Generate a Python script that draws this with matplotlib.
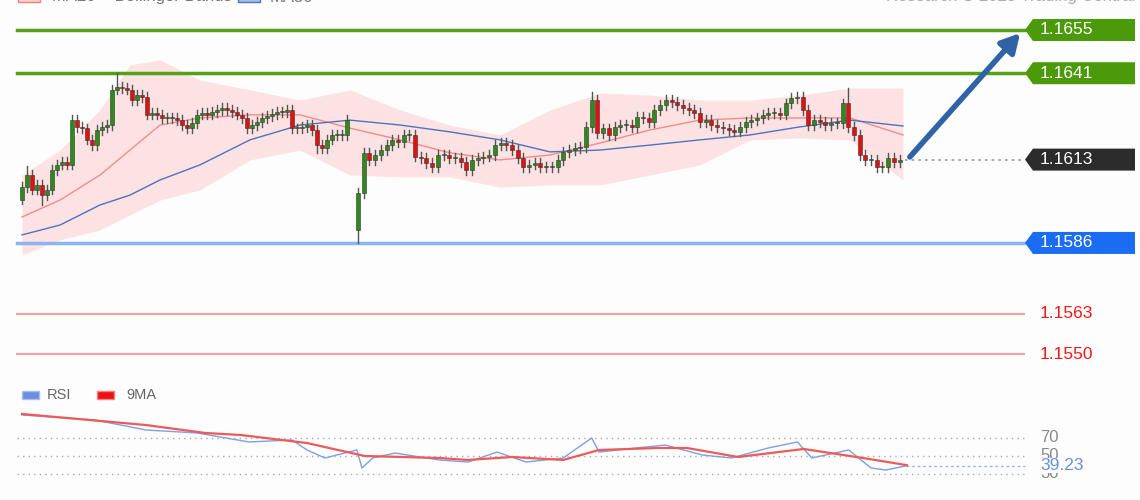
import numpy as np
import matplotlib
matplotlib.use("Agg")
import matplotlib.pyplot as plt
from matplotlib.transforms import blended_transform_factory as btf
from matplotlib.patches import Polygon, Rectangle

plt.rcParams['font.family'] = ['Liberation Sans', 'DejaVu Sans']

# ---------------- data ----------------
closes = [1.16041,1.16080,1.16032,1.16048,1.16015,1.16032,1.16096,1.16113,1.16122,1.16113,
 1.16258,1.16236,1.16232,1.16194,1.16177,1.16226,1.16236,1.16242,1.16356,1.16365,
 1.16362,1.16356,1.16323,1.16339,1.16333,1.16275,1.16281,1.16275,1.16265,1.16265,
 1.16265,1.16258,1.16242,1.16232,1.16249,1.16275,1.16281,1.16275,1.16284,1.16291,
 1.16297,1.16291,1.16284,1.16275,1.16265,1.16232,1.16242,1.16252,1.16265,1.16271,
 1.16278,1.16284,1.16284,1.16291,1.16232,1.16232,1.16236,1.16242,1.16226,1.16177,
 1.16168,1.16194,1.16210,1.16210,1.16210,1.16258,
 1.16022,
 1.16152,1.16129,1.16145,1.16161,1.16177,1.16194,1.16187,1.16210,1.16210,1.16139,
 1.16135,1.16119,1.16106,1.16145,1.16145,1.16135,1.16135,1.16122,1.16096,1.16129,
 1.16135,1.16139,1.16145,1.16177,1.16184,1.16177,1.16161,1.16135,1.16106,1.16113,
 1.16119,1.16106,1.16106,1.16106,1.16129,1.16155,1.16161,1.16168,1.16171,1.16236,
 1.16323,1.16216,1.16232,1.16210,1.16236,1.16242,1.16242,1.16236,1.16268,1.16265,
 1.16252,1.16291,1.16307,1.16323,1.16317,1.16307,1.16297,1.16291,1.16281,1.16252,
 1.16258,1.16242,1.16236,1.16232,1.16226,1.16220,1.16236,1.16252,1.16258,1.16265,
 1.16275,1.16281,1.16281,1.16275,1.16313,1.16330,1.16333,1.16291,1.16242,1.16258,
 1.16252,1.16242,1.16249,1.16249,1.16313,1.16236,1.16210,1.16145,1.16129,1.16129,
 1.16106,1.16106,1.16135,1.16122,1.16129]
first_open = 1.16000
gap_index = 66
gap_open = 1.15902
wick = 0.00015
special_highs = {19: 1.16410, 107: 1.16349, 152: 1.16362, 1: 1.16110}
special_lows = {66: 1.15860, 4: 1.15983, 59: 1.16150}

knot_idx = [0,7.6,15.6,21.6,27.6,35.6,45.6,55.6,65.6,73.4,82.1,90.9,99.7,108.5,117.2,126,134.8,143.5,152.3,161.6]
ma50 = [1.15886,1.15918,1.15983,1.16015,1.16064,1.16113,1.16194,1.16242,1.16258,1.16242,1.16220,1.16194,1.16155,1.16161,1.16177,1.16194,1.16210,1.16236,1.16258,1.16239]
ma20 = [1.15944,1.15999,1.16080,1.16161,1.16242,1.16265,1.16275,1.16275,1.16232,1.16194,1.16152,1.16129,1.16145,1.16184,1.16226,1.16258,1.16265,1.16265,1.16265,1.16210]
bb_up = [1.16080,1.16161,1.16291,1.16437,1.16453,1.16388,1.16356,1.16323,1.16356,1.16291,1.16242,1.16210,1.16291,1.16346,1.16339,1.16323,1.16323,1.16339,1.16362,1.16362]
bb_lo = [1.15821,1.15870,1.15902,1.15951,1.15999,1.16032,1.16129,1.16161,1.16080,1.16074,1.16074,1.16041,1.16048,1.16048,1.16080,1.16113,1.16194,1.16200,1.16194,1.16064]

rsi_idx = [0,14.6,24.8,35,45.4,54,57,60.6,65.8,66.7,68.6,72.5,80.2,85.3,90.4,95.5,102,107,108.3,114.8,119.9,126.4,131.5,138,143.1,145.6,152.1,156,158.6,162.3]
rsi = [95.6,90,78.9,75.6,65.6,67.8,56.7,47.8,56.7,36.7,47.8,53.3,45.6,43.3,54.4,43.3,47.8,70,54.4,58.9,62.2,51.1,47.8,58.9,65.6,47.8,56.7,36.7,34.4,39.23]
ma9_idx = [0,24.8,36.6,43.8,57,67.2,80.2,85.3,93,102,108.3,118.6,123.7,132.7,144.2,154.6,162.3]
ma9 = [96.7,84.4,75.6,73.3,64.4,50,47.8,45.6,48.9,45.6,56.7,58.9,58.9,48.9,57.8,47.8,39.8]

levels_res = [1.1655, 1.1641]
level_sup = 1.1586
levels_red = [1.1563, 1.1550]
last_price = 1.1613
rsi_levels = [70, 50, 30]
rsi_last = 39.23

# ---------------- layout helpers ----------------
W, H = 1140, 500
def bx(i):
    i = np.asarray(i, dtype=float)
    return np.where(i <= 65.6, 22 + 5.0 * i, 358 + 5.7 * (i - 66))

fig = plt.figure(figsize=(W/100, H/100), dpi=100, facecolor='#fcfdfc')
ax = fig.add_axes([0, 0, 1, 1]); ax.set_axis_off()
ax.set_xlim(0, W)
ax.set_ylim(1.1655 - 470/30860, 1.1655 + 30/30860)
pix = fig.add_axes([0, 0, 1, 1]); pix.set_axis_off(); pix.patch.set_alpha(0)
pix.set_xlim(0, W); pix.set_ylim(H, 0)
rax = fig.add_axes([0, 0, 1, 1]); rax.set_axis_off(); rax.patch.set_alpha(0)
rax.set_xlim(0, W); rax.set_ylim(70 - 62/0.9, 70 + 438/0.9)

# Bollinger / MAs
kx = bx(knot_idx)
ax.fill_between(kx, bb_lo, bb_up, color='#fde0e0', alpha=0.9, lw=0, zorder=1)
ax.plot(kx, ma20, color='#f38b8b', lw=1, zorder=2)
ax.plot(kx, ma50, color='#4f72bf', lw=1, zorder=2)

# candles
n = len(closes)
opens = [first_open] + closes[:-1]
opens[gap_index] = gap_open
for i in range(n):
    o, c = opens[i], closes[i]
    x = float(bx(i))
    hi = special_highs.get(i, max(o, c) + wick)
    lo = special_lows.get(i, min(o, c) - wick)
    ax.plot([x, x], [lo, hi], color='#555555', lw=1, zorder=3)
    col = '#2e8a1a' if c >= o else '#e21010'
    ax.add_patch(Rectangle((x-2, min(o, c)), 4, max(abs(c-o), 0.00004),
                           facecolor=col, edgecolor='#333333', lw=0.4, zorder=4))

x0f, x1f = 17/W, 1024/W
for lv in levels_res:
    ax.axhline(lv, x0f, x1f, color='#55a016', lw=2.5, zorder=2)
ax.axhline(level_sup, x0f, x1f, color='#8cb4f2', lw=2.5, zorder=2)
for lv in levels_red:
    ax.axhline(lv, x0f, x1f, color='#f7a0a0', lw=1.5, zorder=2)
ax.axhline(last_price, 905/W, 1025/W, color='#999999', lw=1.2, ls=(0, (1.5, 2.5)), zorder=2)

tr = btf(pix.transData, ax.transData)
hh = 11/30860
def tag(price, fc, tc):
    poly = Polygon([(1025, price), (1033, price+hh), (1135, price+hh), (1135, price-hh), (1033, price-hh)],
                   closed=True, facecolor=fc, edgecolor='none', transform=tr, zorder=5)
    pix.add_patch(poly)
    pix.text(1040, price, f'{price:.4f}', transform=tr, color=tc, fontsize=12.5, va='center', ha='left', zorder=6)
for lv in levels_res:
    tag(lv, '#4a9a0a', 'white')
tag(last_price, '#2c2c2c', 'white')
tag(level_sup, '#1a6cf2', 'white')
for lv in levels_red:
    pix.text(1040, lv, f'{lv:.4f}', transform=tr, color='#f01818', fontsize=12.5, va='center', ha='left')

# arrow
pix.annotate('', xy=(1022, 31), xytext=(908, 159),
             arrowprops=dict(arrowstyle='-|>,head_length=1.1,head_width=0.6', color='#2f62a6', lw=4))

# top legend (cut off at the top edge, as in the reference)
pix.add_patch(Rectangle((18, -6), 22, 8, facecolor='#fdd0d0', edgecolor='#f08080', lw=1))
pix.text(52, -3, 'MA20 + Bollinger Bands', color='#777777', fontsize=12, va='center')
pix.add_patch(Rectangle((238, -6), 22, 8, facecolor='#a8bde8', edgecolor='#4f72bf', lw=1))
pix.text(270, -3, 'MA50', color='#777777', fontsize=12, va='center')
pix.text(1135, -3, 'Research © 2025 Trading Central', color='#aaaaaa', fontsize=12, va='center', ha='right')

# RSI panel
for lv in rsi_levels:
    rax.axhline(lv, 17/W, 1027/W, color='#aaaaaa', lw=1, ls=(0, (1, 3)))
rax.plot(bx(rsi_idx), rsi, color='#7d9fe8', lw=1, zorder=3)
rax.plot(bx(ma9_idx), ma9, color='#ee5a5a', lw=1.6, zorder=4)
rax.axhline(rsi_last, 906/W, 1025/W, color='#9ab4ee', lw=1, ls=(0, (2, 2)))
trr = btf(pix.transData, rax.transData)
pix.text(1040, 70, '70', transform=trr, color='#888888', fontsize=12, va='center')
pix.text(1040, 50, '50', transform=trr, color='#888888', fontsize=12, va='center')
pix.text(1040, 30, '30', transform=trr, color='#888888', fontsize=12, va='center')
pix.add_patch(Rectangle((1038, 458), 60, 15, facecolor='#fcfdfc', edgecolor='none', zorder=5))
pix.text(1040, 465, f'{rsi_last:.2f}', color='#6d8fe0', fontsize=12.5, va='center', zorder=6)
pix.add_patch(Rectangle((22, 391), 17, 8, facecolor='#6d8fe0', edgecolor='#a8bff0'))
pix.text(47, 395, 'RSI', color='#666666', fontsize=10.5, va='center')
pix.add_patch(Rectangle((97, 391), 17, 8, facecolor='#ee1111', edgecolor='#f58080'))
pix.text(126, 395, '9MA', color='#666666', fontsize=10.5, va='center')

fig.savefig('out.png', dpi=100, facecolor=fig.get_facecolor())
